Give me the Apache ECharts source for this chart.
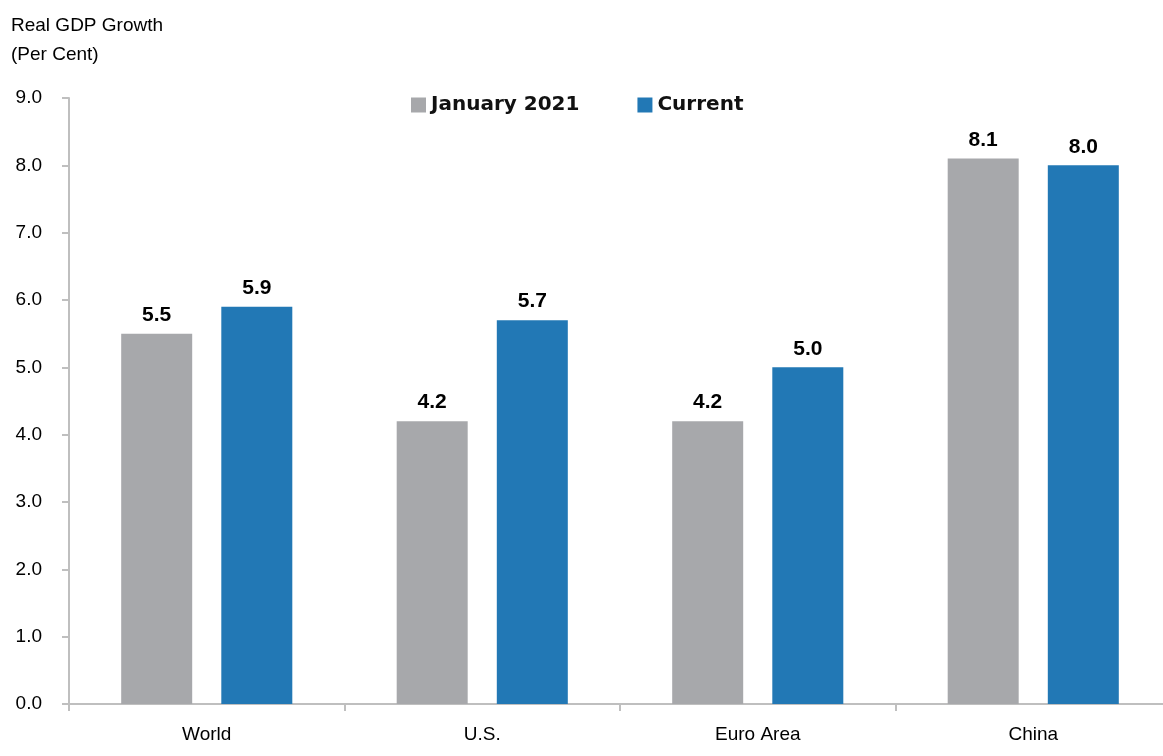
<!DOCTYPE html>
<html><head><meta charset="utf-8">
<script src="https://cdn.jsdelivr.net/npm/echarts@6/dist/echarts.min.js"></script>
<style>html,body{margin:0;padding:0;background:#fff}#c{width:1163px;height:756px}</style>
</head><body><div id="c"></div>
<script>
const categories = ['World', 'U.S.', 'Euro Area', 'China'];
const jan2021 = [5.5, 4.2, 4.2, 8.1];
const current = [5.9, 5.7, 5.0, 8.0];
const seriesNames = ['January 2021', 'Current'];

const chart = echarts.init(document.getElementById('c'), null, {renderer: 'canvas'});
const labelStyle = {
  show: true, position: 'top', distance: 8,
  formatter: p => p.value.toFixed(1),
  fontFamily: 'Liberation Sans Narrow, Liberation Sans, Arial', fontWeight: 'bold', fontSize: 21, color: '#000'
};
chart.setOption({
  animation: false,
  textStyle: {fontFamily: 'Liberation Sans, Arial'},
  graphic: [{
    type: 'text', left: 11, top: 11,
    style: {text: 'Real GDP Growth\n(Per Cent)', fontSize: 19, lineHeight: 29, fill: '#000', fontFamily: 'Liberation Sans, Arial'}
  }],
  legend: {
    top: 90, left: 406, itemWidth: 15, itemHeight: 15, itemGap: 58,
    icon: 'rect',
    textStyle: {fontFamily: 'DejaVu Sans', fontWeight: 'bold', fontSize: 20, color: '#111'},
    data: seriesNames
  },
  grid: {left: 69, width: 1102, top: 98, bottom: 52, containLabel: false, outerBoundsMode: 'none'},
  xAxis: {
    type: 'category', data: categories,
    axisLine: {lineStyle: {color: '#bfbfbf', width: 2}},
    axisTick: {show: true, length: 7, lineStyle: {color: '#bfbfbf', width: 2}},
    axisLabel: {fontSize: 19, color: '#000', margin: 21}
  },
  yAxis: {
    type: 'value', min: 0, max: 9, interval: 1,
    axisLine: {show: true, lineStyle: {color: '#bfbfbf', width: 2}},
    axisTick: {show: true, length: 7, lineStyle: {color: '#bfbfbf', width: 2}},
    splitLine: {show: false},
    axisLabel: {fontSize: 19, color: '#000', margin: 27, formatter: v => v.toFixed(1)}
  },
  series: [
    {name: seriesNames[0], type: 'bar', data: jan2021, barWidth: 71, barGap: '41%', itemStyle: {color: '#A7A8AB'}, label: labelStyle},
    {name: seriesNames[1], type: 'bar', data: current, barWidth: 71, itemStyle: {color: '#2278B5'}, label: labelStyle}
  ]
});
</script></body></html>
